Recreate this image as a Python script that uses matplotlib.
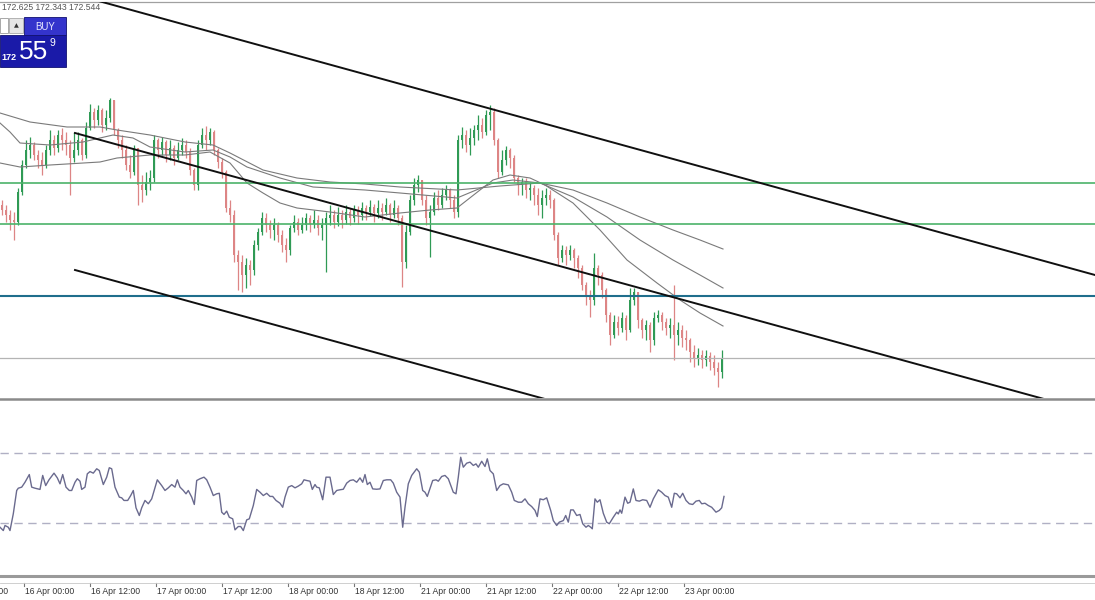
import numpy as np
import matplotlib.pyplot as plt
import matplotlib.transforms as mtransforms
from matplotlib.patches import Rectangle

# hourly-ish candles (prices)
first_open = 174.07
close = [174.02, 173.97, 173.92, 173.90, 174.20, 174.47, 174.62, 174.67, 174.57, 174.52,
         174.47, 174.62, 174.72, 174.64, 174.77, 174.72, 174.67, 174.54, 174.62, 174.72,
         174.57, 174.84, 175.00, 174.92, 175.02, 174.87, 174.94, 175.12, 174.82, 174.72,
         174.62, 174.47, 174.40, 174.64, 174.27, 174.22, 174.30, 174.34, 174.72, 174.62,
         174.70, 174.57, 174.64, 174.54, 174.62, 174.67,
         174.60, 174.42, 174.27, 174.67, 174.77, 174.72, 174.80, 174.62, 174.50, 174.40,
         174.04, 173.97, 173.57, 173.50, 173.37, 173.47, 173.42, 173.67, 173.80, 173.94,
         173.87, 173.82, 173.87, 173.77, 173.67, 173.62, 173.84, 173.90, 173.82, 173.87,
         173.94, 173.88, 173.92, 173.84, 173.87, 173.94, 173.97, 173.90, 173.97, 173.92,
         174.00, 173.94, 174.02, 173.97, 174.04,
         174.00, 174.05, 173.99, 174.04, 174.00, 174.07, 173.97, 174.04, 173.94,
         173.50, 173.80, 174.12, 174.27, 174.32, 174.12, 173.94, 174.00, 174.14, 174.07,
         174.17, 174.22, 174.12, 174.00, 174.72, 174.77, 174.67, 174.74, 174.82, 174.87,
         174.80, 174.97, 175.00, 174.72, 174.40, 174.52, 174.62, 174.54, 174.34, 174.27,
         174.30, 174.22, 174.24, 174.17, 174.07, 174.14,
         174.17, 174.12, 173.77, 173.54, 173.62, 173.57, 173.62, 173.54, 173.44, 173.27,
         173.17, 173.12, 173.44, 173.37, 173.22, 172.97, 172.77, 172.90, 172.84, 172.94,
         172.82, 173.12, 173.20, 172.92, 172.82, 172.87, 172.72, 172.94, 172.97, 172.90,
         172.84, 172.87, 172.77, 172.82, 172.74, 172.72, 172.60, 172.54, 172.57, 172.52,
         172.56, 172.50, 172.44, 172.40, 172.54]
high = [174.12, 174.07, 174.02, 174.00, 174.24, 174.52, 174.72, 174.75, 174.70, 174.62,
        174.60, 174.67, 174.82, 174.77, 174.82, 174.84, 174.80, 174.72, 174.80, 174.80,
        174.74, 174.90, 175.08, 175.04, 175.07, 175.04, 175.02, 175.14, 175.12, 174.84,
        174.77, 174.67, 174.57, 174.67, 174.62, 174.37, 174.40, 174.42, 174.77, 174.74,
        174.75, 174.72, 174.72, 174.67, 174.70, 174.74,
        174.72, 174.64, 174.44, 174.72, 174.84, 174.86, 174.84, 174.82, 174.64, 174.54,
        174.42, 174.12, 174.02, 173.62, 173.57, 173.54, 173.52, 173.72, 173.84, 174.00,
        173.99, 173.92, 173.94, 173.90, 173.82, 173.74, 173.87, 173.97, 173.94, 173.95,
        173.99, 173.97, 174.02, 173.97, 173.94, 174.00, 174.07, 174.02, 174.05, 174.02,
        174.07, 174.04, 174.07, 174.06, 174.10,
        174.07, 174.12, 174.08, 174.12, 174.09, 174.14, 174.09, 174.12, 174.07,
        173.97, 173.87, 174.17, 174.34, 174.37, 174.32, 174.17, 174.07, 174.20, 174.22,
        174.24, 174.27, 174.24, 174.17, 174.77, 174.85, 174.82, 174.84, 174.87, 174.97,
        174.94, 175.02, 175.07, 175.04, 174.74, 174.62, 174.66, 174.64, 174.57, 174.37,
        174.34, 174.34, 174.30, 174.27, 174.24, 174.22,
        174.24, 174.22, 174.14, 173.80, 173.67, 173.66, 173.67, 173.64, 173.57, 173.47,
        173.30, 173.22, 173.59, 173.47, 173.40, 173.24, 173.00, 172.97, 172.96, 173.00,
        172.97, 173.24, 173.24, 173.20, 172.94, 172.92, 172.90, 173.00, 173.02, 173.00,
        172.94, 172.94, 173.27, 172.90, 172.87, 172.82, 172.74, 172.67, 172.64, 172.62,
        172.62, 172.60, 172.57, 172.50, 172.62]
low = [173.97, 173.90, 173.82, 173.72, 173.87, 174.17, 174.44, 174.54, 174.52, 174.44,
       174.37, 174.44, 174.57, 174.57, 174.60, 174.62, 174.57, 174.17, 174.50, 174.57,
       174.52, 174.54, 174.82, 174.84, 174.87, 174.80, 174.82, 174.90, 174.77, 174.64,
       174.54, 174.42, 174.34, 174.37, 174.07, 174.10, 174.17, 174.22, 174.30, 174.54,
       174.57, 174.50, 174.52, 174.47, 174.52, 174.57,
       174.54, 174.37, 174.22, 174.22, 174.64, 174.62, 174.67, 174.57, 174.44, 174.34,
       174.00, 173.90, 173.50, 173.22, 173.20, 173.24, 173.27, 173.37, 173.62, 173.77,
       173.80, 173.74, 173.72, 173.70, 173.60, 173.50, 173.57, 173.80, 173.77, 173.79,
       173.82, 173.80, 173.84, 173.77, 173.72, 173.40, 173.87, 173.84, 173.86, 173.84,
       173.88, 173.87, 173.90, 173.88, 173.92,
       173.92, 173.96, 173.90, 173.94, 173.92, 173.97, 173.90, 173.94, 173.87,
       173.25, 173.44, 173.77, 174.07, 174.20, 174.07, 173.87, 173.55, 173.97, 174.02,
       174.04, 174.12, 174.04, 173.94, 173.95, 174.64, 174.60, 174.57, 174.67, 174.72,
       174.74, 174.77, 174.82, 174.67, 174.34, 174.37, 174.47, 174.44, 174.30, 174.17,
       174.17, 174.14, 174.12, 174.07, 173.97, 173.94,
       174.07, 174.04, 173.72, 173.47, 173.50, 173.47, 173.52, 173.44, 173.34, 173.22,
       173.07, 172.95, 173.07, 173.27, 173.14, 172.90, 172.67, 172.74, 172.77, 172.80,
       172.72, 172.80, 173.07, 172.84, 172.74, 172.72, 172.60, 172.67, 172.90, 172.82,
       172.77, 172.74, 172.52, 172.67, 172.65, 172.62, 172.50, 172.45, 172.47, 172.44,
       172.46, 172.42, 172.37, 172.25, 172.34]

# moving averages (chart slot, price)
ma_slow = [(0, 174.99), (30, 174.90), (67, 174.85), (100, 174.85), (117, 174.82), (150, 174.77),
           (185, 174.70), (213, 174.67), (230, 174.59), (263, 174.42), (297, 174.34), (330, 174.30),
           (365, 174.28), (400, 174.25), (457, 174.22), (500, 174.26), (540, 174.29), (573, 174.22),
           (607, 174.09), (640, 173.95), (673, 173.82), (700, 173.72), (723, 173.63)]
ma_mid = [(0, 174.89), (10, 174.80), (20, 174.69), (50, 174.67), (83, 174.70), (100, 174.74),
          (113, 174.77), (133, 174.74), (150, 174.65), (185, 174.60), (213, 174.62), (230, 174.55),
          (247, 174.45), (280, 174.34), (313, 174.25), (365, 174.22), (400, 174.19), (457, 174.14),
          (493, 174.29), (513, 174.32), (540, 174.29), (573, 174.15), (607, 173.95), (640, 173.72),
          (673, 173.52), (700, 173.37), (723, 173.24)]
ma_fast = [(0, 174.49), (20, 174.45), (50, 174.47), (100, 174.50), (117, 174.54), (150, 174.57),
           (185, 174.57), (210, 174.60), (230, 174.49), (247, 174.29), (263, 174.19), (280, 174.09),
           (297, 174.04), (330, 174.00), (365, 173.95), (400, 173.99), (430, 174.02), (457, 174.04),
           (480, 174.22), (493, 174.32), (510, 174.37), (530, 174.34), (545, 174.27), (573, 174.09),
           (600, 173.82), (627, 173.52), (657, 173.29), (680, 173.12), (700, 172.99), (723, 172.86)]

# RSI (chart slot, value)
rsi_pts = [(0, 27.3), (3.3, 25.4), (5, 28.3), (8.3, 27.3), (10, 25.4), (13.3, 35.0), (16.7, 48.3),
           (18.3, 49.6), (21.7, 50.2), (25, 53.0), (29.3, 57.4), (31.7, 50.2), (35, 49.6), (40, 48.9),
           (42.7, 56.9), (45.7, 51.1), (49, 54.4), (54, 58.2), (57.3, 55.5), (60, 52.1), (62.7, 57.4),
           (66, 50.2), (69.3, 48.3), (71.7, 48.3), (75, 53.0), (77.3, 55.0), (80, 53.6), (81.7, 48.9),
           (85, 50.2), (87.3, 57.8), (90, 59.1), (93.3, 58.2), (96.7, 60.7), (99.3, 59.7), (103.3, 51.7),
           (106.7, 55.9), (109.3, 61.3), (111.7, 60.7), (115, 50.2), (119.3, 44.5), (121.7, 44.1),
           (124, 42.6), (127.7, 42.6), (130.7, 45.4), (133.3, 48.3), (136, 38.4), (139.3, 34.0),
           (141.7, 38.4), (145, 42.6), (148.3, 40.7), (151.7, 43.5), (157.3, 54.4), (161.7, 51.1),
           (165, 48.3), (168.3, 49.8), (171.7, 51.7), (175, 50.2), (177.3, 54.4), (180, 50.2),
           (183.3, 48.3), (186, 46.4), (188.3, 48.3), (191.7, 44.5), (194.3, 40.3), (196.7, 54.0),
           (200, 55.0), (204, 55.9), (206.7, 54.4), (210, 50.2), (213.3, 45.4), (216.7, 46.4),
           (219.3, 46.7), (221.7, 35.9), (224, 34.6), (226.7, 36.5), (229.3, 33.0), (232.7, 32.1),
           (235, 25.8), (238.3, 27.7), (240.7, 27.7), (243.3, 25.4), (246.7, 31.5), (249.3, 32.1),
           (253.3, 39.7), (256.7, 48.9), (260, 47.3), (263.3, 45.4), (266.7, 46.7), (270, 44.9),
           (272.7, 44.9), (276, 42.6), (280, 41.0), (282.7, 38.7), (285, 44.5), (288.3, 50.2),
           (291.7, 51.1), (295, 49.8), (298.3, 50.8), (301.7, 52.1), (304, 54.4), (306.7, 54.0),
           (310, 53.6), (312.3, 48.9), (315, 51.7), (316.7, 50.2), (319.3, 49.8), (322.7, 43.0),
           (326, 55.9), (330, 55.9), (333.3, 46.0), (336.7, 48.3), (340, 48.7), (343.3, 49.0),
           (346.7, 52.5), (350, 54.0), (353.3, 54.4), (356.7, 53.0), (360, 55.5), (362.7, 53.0),
           (365, 57.4), (367.3, 51.7), (370, 53.0), (372.7, 49.2), (376.7, 49.0), (380, 49.2),
           (383.3, 54.0), (386.7, 54.4), (390.7, 54.4), (393.3, 52.5), (396.7, 47.3), (400, 44.5),
           (402.7, 27.3), (405, 38.7), (408.3, 52.1), (411.7, 56.9), (416.7, 60.7), (419.3, 58.8),
           (422.7, 48.3), (425, 47.3), (427.3, 44.9), (432.7, 54.0), (436, 54.4), (438.3, 53.6),
           (441.7, 56.3), (445, 56.9), (448.3, 55.0), (453.3, 47.3), (456, 46.4), (458.3, 55.9),
           (460.7, 67.3), (463.3, 61.6), (466.7, 63.9), (470, 64.5), (473.3, 62.6), (476, 63.5),
           (478.3, 61.6), (481.7, 65.0), (485, 62.0), (487.3, 66.4), (490, 59.7), (493.3, 57.8),
           (496.7, 48.3), (500, 51.1), (503.3, 52.1), (508.3, 51.5), (511.7, 47.3), (514.3, 42.6),
           (518.3, 41.6), (521.7, 41.6), (525, 43.5), (528.3, 40.7), (531.7, 39.1), (535, 36.9),
           (537.3, 33.4), (540, 43.5), (543.3, 43.0), (546.7, 44.1), (550.7, 36.9), (553.3, 31.1),
           (556.7, 28.3), (559.3, 30.2), (563.3, 31.1), (565.7, 34.0), (568.3, 30.2), (570.7, 37.2),
           (573.3, 37.2), (576.7, 34.0), (580, 34.6), (582.7, 29.3), (586, 27.3), (588.3, 28.3),
           (590.7, 27.3), (592.3, 26.4), (595, 43.5), (597.3, 41.6), (600, 43.0), (603.3, 35.3),
           (606.7, 30.2), (609.3, 29.3), (613.3, 33.0), (616.7, 35.9), (618.3, 34.9), (620, 37.2),
           (621.7, 35.3), (625, 44.5), (627.7, 41.0), (630, 41.6), (633.3, 49.2), (636, 42.6),
           (639.3, 42.2), (642.7, 43.0), (646.7, 42.6), (650, 38.7), (653.3, 43.5), (658.3, 48.7),
           (661.7, 47.3), (665, 45.4), (668.3, 44.5), (671.7, 38.7), (674.3, 46.7), (676.7, 46.4),
           (680, 44.1), (682.7, 46.7), (686, 42.6), (689.3, 40.7), (692.7, 40.3), (696, 42.2),
           (699.3, 42.6), (701.7, 40.7), (705, 41.0), (708.3, 39.7), (711.7, 38.7), (716, 35.9),
           (719.3, 36.9), (721.7, 38.4), (724, 44.9)]
rsi_levels = [70, 30]

support_green = [174.29, 173.88]
support_blue = 173.16
bid = 172.545

# trend channel, (slot, price) anchors
trend_upper = [(95, 176.12), (1095, 173.37)]
trend_mid = [(75, 174.79), (1095, 171.99)]
trend_low = [(75, 173.42), (1095, 170.62)]

tick_pos = [-42, 24, 90, 156, 222, 288, 354, 420, 486, 552, 618, 684]
tick_lbl = ['15 Apr 12:00', '16 Apr 00:00', '16 Apr 12:00', '17 Apr 00:00', '17 Apr 12:00',
            '18 Apr 00:00', '18 Apr 12:00', '21 Apr 00:00', '21 Apr 12:00', '22 Apr 00:00',
            '22 Apr 12:00', '23 Apr 00:00']

W, H = 1095, 600
fig = plt.figure(figsize=(W / 100, H / 100), dpi=100)
fig.patch.set_facecolor('white')


def band(top, bottom):
    return [0, 1 - bottom / H, 1, (bottom - top) / H]


ax = fig.add_axes(band(2, 398))
ax_rsi = fig.add_axes(band(400, 575))
for a in (ax, ax_rsi):
    a.set_xlim(0, W)
    a.set_xticks([])
    a.set_yticks([])
    for s in a.spines.values():
        s.set_visible(False)
ax.spines['top'].set_visible(True)
ax.spines['top'].set_color('#a0a0a0')
ax.spines['top'].set_linewidth(0.9)
ax.set_ylim(172.14, 176.10)
ax_rsi.set_ylim(0, 100)

# candles
close = np.array(close)
opens = np.concatenate([[first_open], close[:-1]])
high = np.maximum(np.array(high), np.maximum(opens, close))
low = np.minimum(np.array(low), np.minimum(opens, close))
t = np.arange(len(close)) * 4 + 2
up = close >= opens
col = np.where(up, '#2f9a55', '#dd8585')
ax.vlines(t, low, high, colors=col, lw=0.9, zorder=2)
body = np.where(np.abs(close - opens) < 0.006, 0.006, close - opens)
ax.bar(t, body, bottom=opens, width=2.8, color=col, lw=0, zorder=3)

for pts in (ma_slow, ma_mid, ma_fast):
    xs, ys = zip(*pts)
    ax.plot(xs, ys, color='#7a7a7a', lw=0.8, zorder=4)

for lvl in support_green:
    ax.axhline(lvl, color='#4cb36a', lw=1.2, zorder=4)
ax.axhline(support_blue, color='#1f6e8c', lw=1.5, zorder=4)
ax.axhline(bid, color='#b4b4b4', lw=0.9, zorder=4)

for ln in (trend_upper, trend_mid, trend_low):
    xs, ys = zip(*ln)
    ax.plot(xs, ys, color='#101010', lw=1.4, zorder=5)

# RSI
rx, rv = zip(*rsi_pts)
ax_rsi.plot(rx, rv, color='#6a6a8e', lw=1.0, zorder=3)
for lvl in rsi_levels:
    ax_rsi.axhline(lvl, color='#b0b0c4', lw=1.0, dashes=(6, 4), zorder=2)

# time axis
tr = mtransforms.blended_transform_factory(ax_rsi.transData, ax_rsi.transAxes)
for pos, lbl in zip(tick_pos, tick_lbl):
    ax_rsi.text(pos + 1, -16 / 175, lbl, transform=tr, ha='left', va='center',
                fontsize=6.2, color='#333333', family='Liberation Sans', clip_on=False)
    ax_rsi.plot([pos, pos], [-8 / 175, -11 / 175], transform=tr, color='#777777',
                lw=0.8, clip_on=False)

# chart chrome in pixel space
ov = fig.add_axes([0, 0, 1, 1], zorder=10)
ov.set_xlim(0, W)
ov.set_ylim(H, 0)
ov.axis('off')
ov.patch.set_alpha(0)
ov.plot([0, W], [398.5, 398.5], color='#8a8a8a', lw=1.8)
ov.plot([0, W], [575.5, 575.5], color='#9a9a9a', lw=2.2)
ov.plot([0, W], [583, 583], color='#c8c8c8', lw=0.6)

ov.text(2, 8, '172.625 172.343 172.544', fontsize=6.2, color='#555555',
        family='Liberation Sans', va='center', ha='left')
ov.add_patch(Rectangle((0, 35), 66, 32, fc='#1a1aa8', ec='#101070', lw=0.6))
ov.add_patch(Rectangle((24, 17), 42, 18, fc='#3434cc', ec='#101070', lw=0.6))
ov.add_patch(Rectangle((0, 18), 8, 15, fc='white', ec='#9a9a9a', lw=0.6))
ov.add_patch(Rectangle((9, 18), 14, 15, fc='#e6e6e6', ec='#a8a8a8', lw=0.6))
ov.text(16, 26, '\u25b2', fontsize=4.5, color='#333333', ha='center', va='center')
ov.text(45, 26.5, 'BUY', fontsize=7, color='#e8e8ff', ha='center', va='center',
        family='Liberation Sans')
ov.text(1, 57, '172', fontsize=6.5, color='white', fontweight='bold', ha='left',
        va='center', family='Liberation Sans')
ov.text(19, 52, '55', fontsize=19, color='white', ha='left', va='center',
        family='Liberation Sans')
ov.text(49, 43, '9', fontsize=7.5, color='white', ha='left', va='center',
        family='Liberation Sans')

fig.savefig('out.png', dpi=100)
